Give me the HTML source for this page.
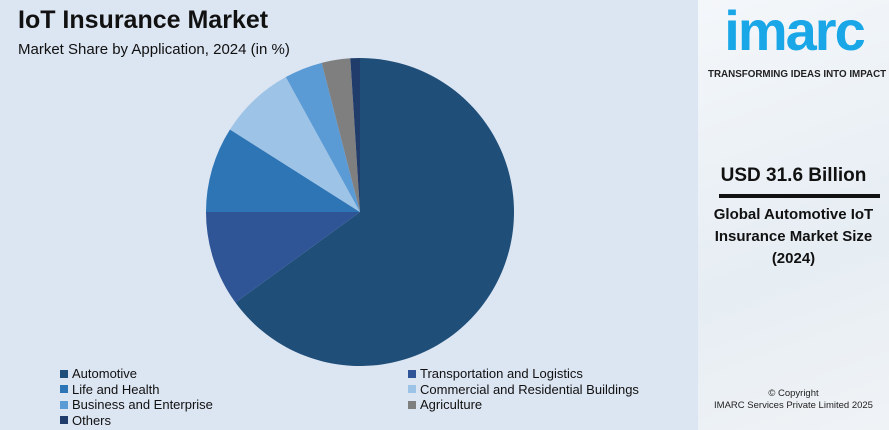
<!DOCTYPE html>
<html><head><meta charset="utf-8"><style>
body{margin:0;width:889px;height:430px;overflow:hidden;font-family:"Liberation Sans",sans-serif;background:#dce5f2;position:relative}
.t{position:absolute;left:18px;top:6px;font-size:25px;font-weight:bold;color:#111}
.s{position:absolute;left:18px;top:41px;font-size:15px;color:#111}
.lg{position:absolute;font-size:13px;color:#111;display:flex;align-items:center}
.lg i{display:inline-block;width:8px;height:8px;margin-right:4px}
.panel{position:absolute;left:698px;top:0;width:191px;height:430px;background:linear-gradient(160deg,#f4f7fa,#e6edf3 60%,#f0f3f6)}
</style></head><body>
<div class="t">IoT Insurance Market</div>
<div class="s">Market Share by Application, 2024 (in %)</div>
<svg id="pie" width="889" height="430" style="position:absolute;left:0;top:0"></svg>
<div id="legend"></div>
<div class="panel">
<div style="position:absolute;left:6px;top:-2px;width:180px;text-align:center"><span style="font-size:56px;font-weight:bold;color:#19a7e8;letter-spacing:-2px">imarc</span></div>
<div style="position:absolute;left:10px;top:69px;font-size:9.8px;font-weight:bold;color:#222;white-space:nowrap">TRANSFORMING IDEAS INTO IMPACT</div>
<div style="position:absolute;left:0;width:191px;top:165px;text-align:center;font-size:19px;font-weight:bold;color:#111">USD 31.6 Billion</div>
<div style="position:absolute;left:21px;top:194px;width:161px;height:4px;background:#111"></div>
<div style="position:absolute;left:0;width:191px;top:204px;text-align:center;font-size:15px;font-weight:bold;color:#111;line-height:22px">Global Automotive IoT<br>Insurance Market Size<br>(2024)</div>
<div style="position:absolute;left:0;width:191px;top:388px;text-align:center;font-size:9.5px;color:#222;line-height:12px">© Copyright<br>IMARC Services Private Limited 2025</div>
</div>
<script>
const categories=["Automotive","Transportation and Logistics","Life and Health","Commercial and Residential Buildings","Business and Enterprise","Agriculture","Others"];
const shares=[65,10,9,8,4,3,1];
const colors=["#1f4e79","#2f5597","#2e75b6","#9dc3e6","#5b9bd5","#7f7f7f","#203c6a"];
const svg=document.getElementById('pie');const cx=360,cy=212,r=154;
const tot=shares.reduce((a,b)=>a+b,0);let a0=0;
function pt(a){return [cx+r*Math.sin(a),cy-r*Math.cos(a)];}
shares.forEach((v,i)=>{const a1=a0+v/tot*2*Math.PI;const p0=pt(a0),p1=pt(a1);
const p=document.createElementNS('http://www.w3.org/2000/svg','path');
p.setAttribute('d',`M${cx},${cy}L${p0[0]},${p0[1]}A${r},${r} 0 ${a1-a0>Math.PI?1:0} 1 ${p1[0]},${p1[1]}Z`);
p.setAttribute('fill',colors[i]);


svg.appendChild(p);a0=a1;});
const lg=document.getElementById('legend');
categories.forEach((c,i)=>{const d=document.createElement('div');d.className='lg';
d.style.left=(i%2?408:60)+'px';d.style.top=(366+Math.floor(i/2)*15.5)+'px';
d.innerHTML=`<i style="background:${colors[i]}"></i>${c}`;


lg.appendChild(d);});
</script>
</body></html>
